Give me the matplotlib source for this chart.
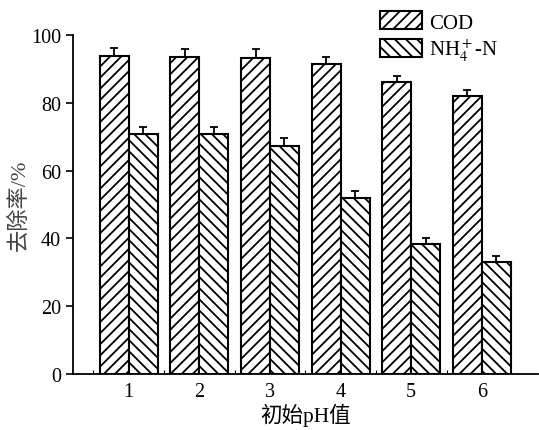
import numpy as np
import matplotlib
matplotlib.use('Agg')
import matplotlib.pyplot as plt
from matplotlib.ticker import FixedLocator

plt.rcParams['font.family'] = ['Liberation Serif', 'Noto Sans CJK SC']
plt.rcParams['hatch.linewidth'] = 1.3
plt.rcParams['mathtext.fontset'] = 'stix'

# 初始pH值 1~6
ph_labels = ['1', '2', '3', '4', '5', '6']
cod = [93.7, 93.6, 93.3, 91.4, 86.2, 81.9]
cod_err = [2.5, 2.3, 2.6, 2.1, 1.7, 2.0]
nh4 = [70.9, 70.9, 67.3, 51.8, 38.3, 33.1]
nh4_err = [2.0, 2.0, 2.3, 2.1, 1.7, 1.8]

x = np.arange(1, len(ph_labels) + 1)
w = 0.41

fig = plt.figure(figsize=(5.39, 4.31), dpi=100)
ax = fig.add_axes([0.1354, 0.130, 0.862, 0.7865])

err_kw = dict(elinewidth=1.3, capsize=2.6, capthick=1.3, ecolor='black')
ax.bar(x - w / 2, cod, w, color='white', edgecolor='black', linewidth=1.5,
       hatch='///', label='COD',
       yerr=[np.zeros(len(cod)), cod_err], error_kw=err_kw)
ax.bar(x + w / 2, nh4, w, color='white', edgecolor='black', linewidth=1.5,
       hatch='\\\\\\', label='NH$_4^+$-N',
       yerr=[np.zeros(len(nh4)), nh4_err], error_kw=err_kw)

ax.set_xlim(0.21, 6.79)
ax.set_ylim(0, 100)
ax.set_xticks(x)
ax.set_xticklabels(ph_labels)
ax.xaxis.set_minor_locator(FixedLocator(x - 0.5))
ax.tick_params(axis='x', which='major', length=0, labelsize=14.5, pad=6)
ax.tick_params(axis='x', which='minor', length=3, direction='in', width=0.8)
ax.tick_params(axis='y', which='major', length=5, width=1.2, labelsize=14.5)
ax.set_yticks([0, 20, 40, 60, 80, 100])

for s in ['top', 'right']:
    ax.spines[s].set_visible(False)
for s in ['left', 'bottom']:
    ax.spines[s].set_linewidth(1.3)

ax.set_xlabel('初始pH值', fontsize=15.5, labelpad=1)
ax.set_ylabel('去除率/%', fontsize=16, labelpad=1, color='#444444')

fig.legend(loc='upper right', bbox_to_anchor=(0.955, 1.01), frameon=False,
           fontsize=15, handlelength=2.0, handleheight=0.95,
           labelspacing=0.2, handletextpad=0.35, borderpad=0.3)

fig.savefig('out.png', dpi=100)
